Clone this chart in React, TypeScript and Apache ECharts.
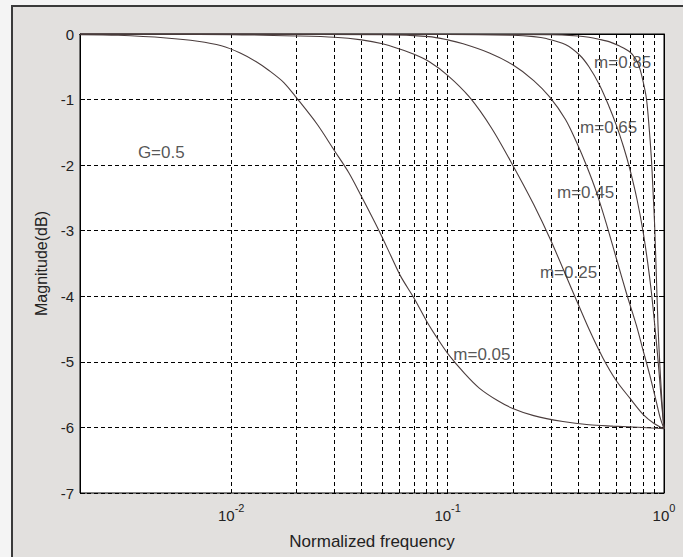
import React, { useEffect, useRef } from 'react';
import * as echarts from 'echarts';

// Curve data: normalized frequency and magnitude (dB), G = 0.5
const m005F = [0.002, 0.003, 0.005, 0.007, 0.009, 0.011, 0.013, 0.015, 0.0175, 0.02, 0.025, 0.03, 0.035, 0.04, 0.048, 0.055, 0.0608, 0.07, 0.08, 0.09, 0.101, 0.12, 0.14, 0.17, 0.2, 0.25, 0.341, 0.45, 0.58, 0.8, 1];
const m005Db = [-0.01, -0.02, -0.06, -0.11, -0.18, -0.29, -0.42, -0.56, -0.74, -0.97, -1.38, -1.78, -2.12, -2.48, -2.99, -3.4, -3.7, -4.03, -4.38, -4.65, -4.89, -5.18, -5.4, -5.59, -5.71, -5.82, -5.91, -5.96, -5.98, -6.0, -6.02];

const m025F = [0.002, 0.01, 0.02, 0.03, 0.04, 0.05, 0.06, 0.07, 0.082, 0.1, 0.126, 0.16, 0.2, 0.25, 0.3, 0.379, 0.45, 0.522, 0.6, 0.694, 0.8, 0.9, 1];
const m025Db = [0, -0.01, -0.03, -0.05, -0.09, -0.15, -0.23, -0.31, -0.42, -0.63, -0.96, -1.44, -2.0, -2.6, -3.15, -3.93, -4.5, -4.94, -5.28, -5.55, -5.8, -5.94, -6.02];

const m045F = [0.002, 0.05, 0.082, 0.1, 0.118, 0.156, 0.2, 0.25, 0.296, 0.35, 0.393, 0.44, 0.486, 0.54, 0.602, 0.67, 0.745, 0.8, 0.859, 0.92, 0.96, 1];
const m045Db = [0, -0.01, -0.04, -0.09, -0.15, -0.29, -0.47, -0.71, -0.96, -1.3, -1.64, -2.02, -2.4, -2.88, -3.42, -3.95, -4.44, -4.82, -5.2, -5.6, -5.85, -6.02];

const m065F = [0.002, 0.1, 0.2, 0.25, 0.286, 0.35, 0.407, 0.45, 0.504, 0.55, 0.602, 0.65, 0.694, 0.75, 0.8, 0.84, 0.874, 0.91, 0.94, 0.97, 1];
const m065Db = [0, -0.005, -0.02, -0.04, -0.07, -0.16, -0.32, -0.5, -0.78, -1.06, -1.39, -1.72, -2.05, -2.52, -3.01, -3.48, -3.93, -4.5, -5.0, -5.55, -6.02];

const m085F = [0.002, 0.3, 0.4, 0.45, 0.5, 0.561, 0.62, 0.694, 0.74, 0.772, 0.8, 0.829, 0.85, 0.874, 0.89, 0.905, 0.92, 0.938, 0.955, 0.97, 0.985, 1];
const m085Db = [0, -0.01, -0.03, -0.05, -0.08, -0.12, -0.18, -0.27, -0.38, -0.52, -0.72, -0.98, -1.35, -1.89, -2.4, -2.91, -3.6, -4.44, -5.0, -5.4, -5.75, -6.02];

// Annotations
const noteText = ['m=0.85', 'm=0.65', 'm=0.45', 'm=0.25', 'm=0.05', 'G=0.5'];
const noteF = [0.644, 0.555, 0.434, 0.362, 0.144, 0.00475];
const noteDb = [-0.43, -1.43, -2.42, -3.64, -4.89, -1.8];

// Axis ranges and grid lines
const xMin = 0.002;
const xMax = 1;
const yMin = -7;
const yMax = 0;
const yStep = 1;
const vGridLines = [0.003, 0.004, 0.005, 0.006, 0.007, 0.008, 0.009, 0.01, 0.02, 0.03, 0.04, 0.05, 0.06, 0.07, 0.08, 0.09, 0.1, 0.2, 0.3, 0.4, 0.5, 0.6, 0.7, 0.8, 0.9];

const curves = [
  { name: 'm=0.05', f: m005F, db: m005Db },
  { name: 'm=0.25', f: m025F, db: m025Db },
  { name: 'm=0.45', f: m045F, db: m045Db },
  { name: 'm=0.65', f: m065F, db: m065Db },
  { name: 'm=0.85', f: m085F, db: m085Db },
];

const FONT = '"Liberation Sans", Arial, sans-serif';
const DASH = [4, 3];

export default function App() {
  const ref = useRef<HTMLDivElement>(null);

  useEffect(() => {
    if (!ref.current) return;
    const chart = echarts.init(ref.current, undefined, { renderer: 'svg' });

    const lineSeries: any[] = curves.map((c, i) => ({
      type: 'line',
      name: c.name,
      data: c.f.map((f, j) => [f, c.db[j]]),
      showSymbol: false,
      smooth: 0.3,
      lineStyle: { color: '#4b3d3d', width: 1.1 },
      z: 3,
      ...(i === 0
        ? {
            markLine: {
              silent: true,
              symbol: ['none', 'none'],
              label: { show: false },
              lineStyle: { color: '#000', type: DASH, width: 1 },
              data: vGridLines.map((v) => ({ xAxis: v })),
              z: 1,
            },
          }
        : {}),
    }));

    const noteSeries = {
      type: 'scatter',
      symbolSize: 0,
      silent: true,
      data: noteText.map((t, i) => ({ name: t, value: [noteF[i], noteDb[i]] })),
      label: {
        show: true,
        position: 'inside',
        formatter: '{b}',
        fontSize: 17,
        fontFamily: FONT,
        color: '#2a2a2a',
      },
      z: 4,
    };

    const isDecade = (v: number) => {
      const l = Math.log10(v);
      return Math.abs(l - Math.round(l)) < 1e-6;
    };

    chart.setOption({
      animation: false,
      backgroundColor: 'transparent',
      textStyle: { fontFamily: FONT },
      grid: {
        left: 80,
        right: 19,
        top: 34,
        bottom: 64,
        show: true,
        backgroundColor: '#ffffff',
        borderColor: '#000',
        borderWidth: 1,
      },
      xAxis: [
        {
          type: 'log',
          logBase: 10,
          min: xMin,
          max: xMax,
          name: 'Normalized frequency',
          nameLocation: 'middle',
          nameGap: 40,
          nameTextStyle: { fontSize: 17, color: '#222', fontFamily: FONT },
          axisLine: { show: true, lineStyle: { color: '#000', width: 1 } },
          axisTick: { show: false },
          splitLine: { show: false },
          axisLabel: {
            color: '#222',
            fontSize: 15,
            lineHeight: 26,
            margin: 9,
            fontFamily: FONT,
            formatter: (v: number) => {
              if (!isDecade(v)) return '';
              const e = Math.round(Math.log10(v));
              return '10{sup|' + e + '}';
            },
            rich: {
              sup: { fontSize: 11, lineHeight: 11, verticalAlign: 'top', color: '#222', fontFamily: FONT },
            },
          },
        },
        {
          type: 'log',
          logBase: 10,
          min: xMin,
          max: xMax,
          position: 'top',
          axisLine: { show: true, lineStyle: { color: '#000', width: 1 } },
          axisTick: { show: false },
          axisLabel: { show: false },
          splitLine: { show: false },
        },
      ],
      yAxis: [
        {
          type: 'value',
          min: yMin,
          max: yMax,
          interval: yStep,
          name: 'Magnitude(dB)',
          nameLocation: 'middle',
          nameGap: 30,
          nameTextStyle: { fontSize: 16, color: '#222', fontFamily: FONT },
          axisLine: { show: true, lineStyle: { color: '#000', width: 1 } },
          axisTick: { show: true, inside: true, length: 5, lineStyle: { color: '#000' } },
          axisLabel: { color: '#222', fontSize: 15, margin: 6, fontFamily: FONT },
          splitLine: { show: true, lineStyle: { color: '#000', type: DASH, width: 1 } },
        },
        {
          type: 'value',
          min: yMin,
          max: yMax,
          interval: yStep,
          position: 'right',
          axisLine: { show: true, lineStyle: { color: '#000', width: 1 } },
          axisTick: { show: true, inside: true, length: 5, lineStyle: { color: '#000' } },
          axisLabel: { show: false },
          splitLine: { show: false },
        },
      ],
      series: [...lineSeries, noteSeries],
    });

    return () => {
      chart.dispose();
    };
  }, []);

  return (
    <div
      style={{
        position: 'fixed',
        left: 0,
        top: 0,
        width: 683,
        height: 557,
        overflow: 'hidden',
        background: '#f4f4f4',
      }}
    >
      <div
        style={{
          position: 'absolute',
          left: 11,
          top: 5,
          width: 700,
          height: 600,
          boxSizing: 'border-box',
          border: '2px solid #3a3a3a',
          background: '#e2e0de',
        }}
      />
      <div ref={ref} style={{ position: 'absolute', left: 0, top: 0, width: 683, height: 557 }} />
    </div>
  );
}
